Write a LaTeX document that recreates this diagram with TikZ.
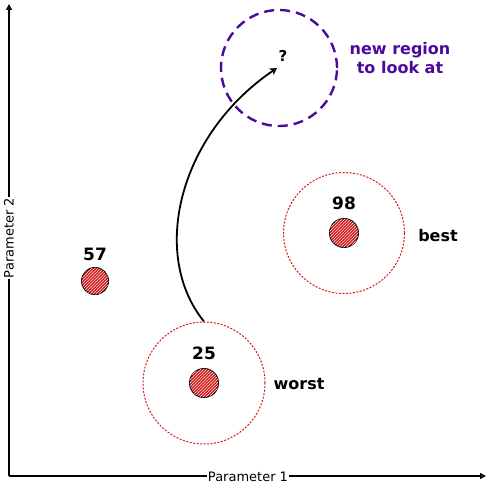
\documentclass[tikz,border=0pt]{standalone}
\usepackage{fontspec}
\setmainfont{DejaVu Sans}
\usetikzlibrary{arrows.meta,patterns}
\definecolor{pur}{HTML}{4B0A9E}
\definecolor{rd}{HTML}{D41A1A}
\tikzset{
  axis/.style={line width=1.8pt,-{Triangle[open,length=6pt,width=6pt]}},
  dot/.style={circle,draw=black,line width=1pt,fill=rd,minimum size=29pt,inner sep=0pt,
    postaction={pattern=north east lines,pattern color=white!85!rd}},
  halo/.style={circle,draw=rd,dash pattern=on 2pt off 1.5pt,line width=1pt,inner sep=0pt},
  num/.style={font=\fontsize{17}{19}\selectfont\bfseries},
  tag/.style={font=\fontsize{16}{19}\selectfont\bfseries},
  axlab/.style={fill=white,inner sep=1pt,font=\fontsize{13}{15}\selectfont}
}
\begin{document}
\begin{tikzpicture}[x=1pt,y=-1pt]
\useasboundingbox (0,0) rectangle (489,489);
% axes
\coordinate (o) at (9,476);
\coordinate (yt) at (9,4);
\coordinate (xt) at (486,476);
\draw[axis] (o) -- (yt);
\draw[axis] (o) -- (xt);
\node[axlab] (p1) at (248,477) {Parameter 1};
\node[axlab,rotate=90] (p2) at (9,238) {Parameter 2};
% points
\node[dot,minimum size=27pt] (d57) at (95,281) {};
\node[num] (l57) at (95,254) {57};
\node[halo,minimum size=121pt] (h98) at (344,233) {};
\node[dot] (d98) at (344,233) {};
\node[num] (l98) at (344,203) {98};
\node[tag] (best) at (438,236) {best};
\node[halo,minimum size=122pt] (h25) at (204,383) {};
\node[dot] (d25) at (204,383) {};
\node[num] (l25) at (204,353) {25};
\node[tag] (worst) at (299,384) {worst};
% new region
\node[circle,draw=pur,line width=2.4pt,dash pattern=on 10pt off 6pt,minimum size=116pt,inner sep=0pt] (nr) at (279,68) {};
\node[font=\fontsize{15}{17}\selectfont\bfseries] (q) at (283,56) {?};
\node[tag,text=pur,align=center] (nrl) at (400,58) {new region\\to look at};
\coordinate (ae) at (277,68);
\draw[line width=1.8pt,-{Stealth[open,length=7pt,width=8pt]}] (h25.north) .. controls (150,255) and (178,135) .. (ae);
\end{tikzpicture}
\end{document}
